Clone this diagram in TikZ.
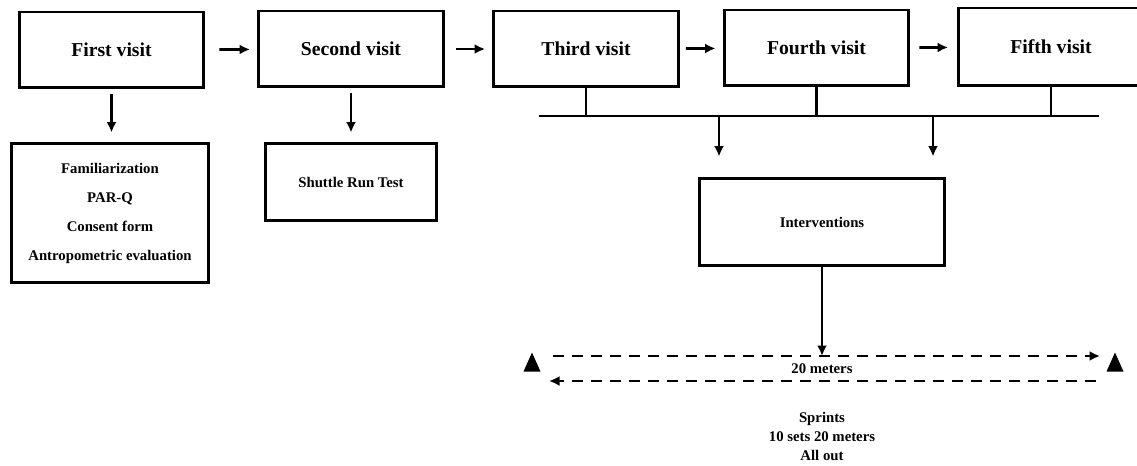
\documentclass[tikz,border=0pt]{standalone}
\usepackage{fontspec}
\setmainfont{Liberation Serif}
\usetikzlibrary{positioning, arrows.meta, shapes.geometric}
\tikzset{visit/.style={draw, line width=1.7pt, minimum width=3.7cm, minimum height=1.52cm,
    font=\bfseries\fontsize{11.2}{13}\selectfont},
  task/.style={draw, line width=1.7pt, align=center,
    font=\bfseries\fontsize{8.4}{16.5}\selectfont},
  cone/.style={isosceles triangle, isosceles triangle apex angle=50, shape border rotate=90,
    isosceles triangle stretches, fill, inner sep=0pt, minimum width=0.34cm, minimum height=0.38cm},
  run/.style={dash pattern=on 0.22cm off 0.16cm, line width=1.6pt}}

\begin{document}
\begin{tikzpicture}[x=0.02cm, y=-0.02cm, >={Latex[length=0.21cm,width=0.2cm]}, line width=1.5pt]
    \useasboundingbox (0,0) rectangle (1137,466);

    % visits
    \node[visit] (v-1) at (111.5,50) {First visit};
    \node[visit] (v-2) at (351,49) {Second visit};
    \node[visit] (v-3) at (586,49) {Third visit};
    \node[visit] (v-4) at (816.5,48) {Fourth visit};
    \node[visit, minimum height=1.56cm] (v-5) at (1051,47) {Fifth visit};

    \node[task, minimum width=3.96cm, minimum height=2.8cm] (t-1) at (110,213)
      {Familiarization\\PAR-Q\\Consent form\\Antropometric evaluation};
    \node[task, minimum width=3.44cm, minimum height=1.56cm] (t-2) at (351,182)
      {Shuttle Run Test};
    \node[task, minimum width=4.92cm, minimum height=1.76cm] (iv) at (822,222)
      {Interventions};

    \draw[->, shorten <=0.28cm, shorten >=0.14cm] (v-1) -- (v-2);
    \draw[->, shorten <=0.22cm, shorten >=0.14cm] (v-2) -- (v-3);
    \draw[->, shorten <=0.12cm, shorten >=0.14cm] (v-3) -- (v-4);
    \draw[->, shorten <=0.18cm, shorten >=0.18cm] (v-4) -- (v-5);

    \draw[->, shorten <=0.1cm, shorten >=0.18cm] (v-1.south) -- (v-1.south |- t-1.north);
    \draw[->, shorten <=0.1cm, shorten >=0.18cm] (v-2.south) -- (v-2.south |- t-2.north);

    % bus
    \coordinate (bus-l) at (539,116);
    \coordinate (bus-r) at (1099,116);
    \draw[line width=1.7pt] (bus-l) -- (bus-r);
    \draw (v-3.south) -- (v-3.south |- bus-l);
    \draw (v-4.south) -- (v-4.south |- bus-l);
    \draw (v-5.south) -- (v-5.south |- bus-l);

    \coordinate (tap-l) at (719,116);
    \coordinate (tap-r) at (933,116);
    \draw[->, shorten >=0.4cm] (tap-l) -- (tap-l |- iv.north);
    \draw[->, shorten >=0.4cm] (tap-r) -- (tap-r |- iv.north);

    % sprint course
    \node[cone] (cone-l) at (532,366) {};
    \node[cone] (cone-r) at (1115,366) {};
    \coordinate (run-a) at (553,356);
    \coordinate (run-b) at (1100,356);
    \coordinate (back-a) at (1096,381);
    \coordinate (back-b) at (549,381);

    \draw[->] (iv.south) -- (iv.south |- run-a);
    \draw[run, ->] (run-a) -- (run-b);
    \draw[run, ->] (back-a) -- (back-b);

    \node[font=\bfseries\fontsize{8.4}{10}\selectfont] (dist) at (822,369) {20 meters};
    \node[font=\bfseries\fontsize{8.4}{10.8}\selectfont, align=center] (sprints) at (822,436)
      {Sprints\\10 sets 20 meters\\All out};
\end{tikzpicture}
\end{document}
